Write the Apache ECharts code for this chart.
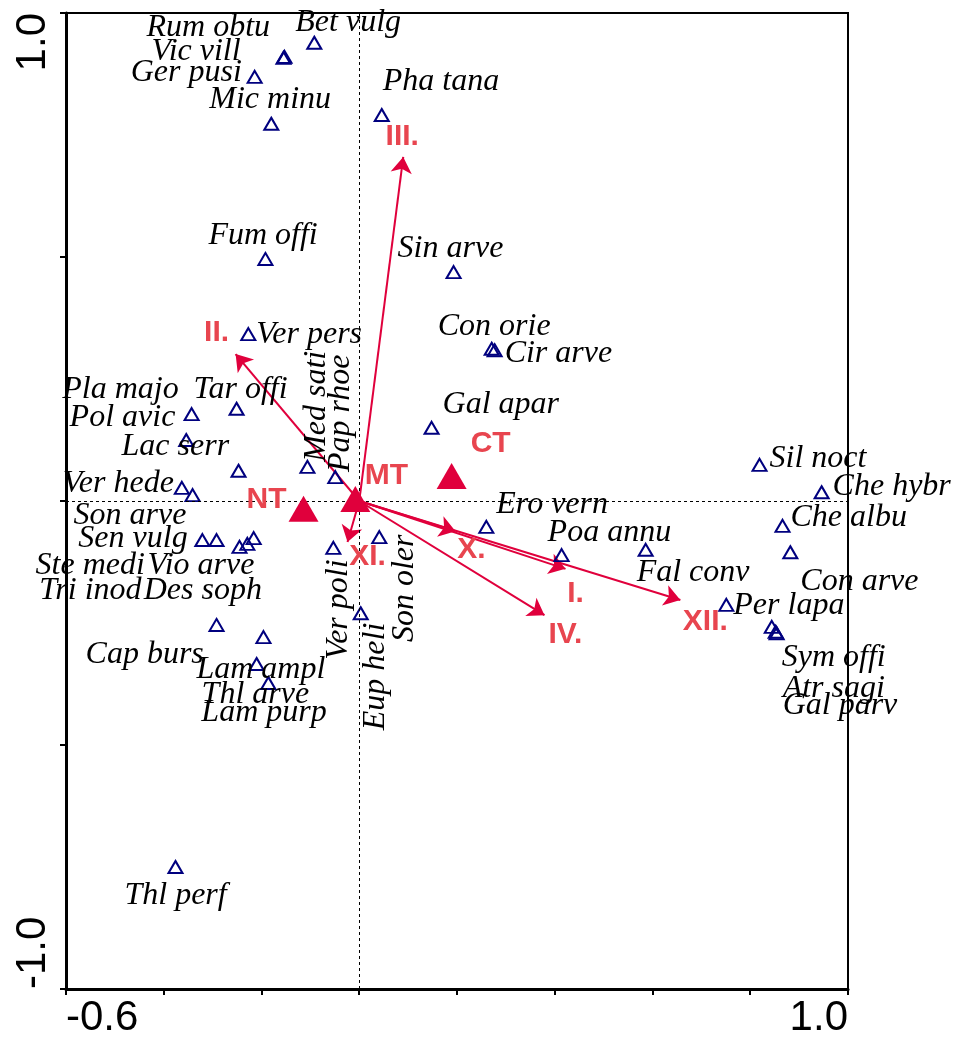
<!DOCTYPE html>
<html>
<head>
<meta charset="utf-8">
<title>Ordination biplot</title>
<script src="https://cdn.jsdelivr.net/npm/echarts@6/dist/echarts.min.js"></script>
<style>
  html, body { margin: 0; padding: 0; background: #fff; }
  #chart { width: 954px; height: 1044px; }
</style>
</head>
<body>
<div id="chart"></div>
<script>
// species scores
const speciesNames = [
  'Rum obtu', 'Bet vulg', 'Vic vill', 'Ger pusi', 'Mic minu', 'Pha tana', 'Fum offi', 'Sin arve',
  'Con orie', 'Cir arve', 'Ver pers', 'Pla majo', 'Tar offi', 'Pol avic', 'Lac serr', 'Gal apar',
  'Med sati', 'Pap rhoe', 'Ver hede', 'Son arve', 'Sen vulg', 'Ste medi', 'Vio arve', 'Tri inod',
  'Des soph', 'Ver poli', 'Son oler', 'Eup heli', 'Cap burs', 'Lam ampl', 'Thl arve', 'Lam purp',
  'Thl perf', 'Ero vern', 'Poa annu', 'Fal conv', 'Per lapa', 'Sil noct', 'Che hybr', 'Che albu',
  'Con arve', 'Sym offi', 'Atr sagi', 'Gal parv'
]
const speciesX = [
  -0.153, -0.092, -0.155, -0.214, -0.180, 0.046, -0.192, 0.193,
  0.271, 0.277, -0.227, -0.354, -0.251, -0.343, -0.247, 0.148,
  -0.106, -0.049, -0.363, -0.341, -0.321, -0.292, -0.245, -0.229,
  -0.216, -0.053, 0.041, 0.003, -0.292, -0.196, -0.210, -0.186,
  -0.376, 0.260, 0.414, 0.586, 0.751, 0.819, 0.946, 0.866,
  0.882, 0.844, 0.854, 0.852
]
const speciesY = [
  0.910, 0.939, 0.908, 0.869, 0.773, 0.791, 0.496, 0.469,
  0.312, 0.309, 0.342, 0.125, 0.189, 0.178, 0.062, 0.150,
  0.070, 0.049, 0.027, 0.012, -0.080, -0.080, -0.094, -0.088,
  -0.076, -0.096, -0.074, -0.230, -0.254, -0.279, -0.334, -0.373,
  -0.750, -0.053, -0.111, -0.100, -0.213, 0.074, 0.018, -0.051,
  -0.105, -0.258, -0.271, -0.268
]

// environmental variables (arrow tips)
const envNames = ['I.', 'II.', 'III.', 'IV.', 'X.', 'XI.', 'XII.']
const envX = [0.422, -0.253, 0.090, 0.379, 0.197, -0.024, 0.657]
const envY = [-0.139, 0.301, 0.705, -0.234, -0.062, -0.084, -0.203]

// tillage centroids
const centroidNames = ['MT', 'NT', 'CT']
const centroidX = [-0.008, -0.114, 0.189]
const centroidY = [0.004, -0.016, 0.051]

// tick labels that are printed
const xTickLabels = [-0.6, 1.0]
const yTickLabels = [-1.0, 1.0]

// label placement, pixels from the marker centre (left edge / middle of text)
const speciesLabelShift = [
  [-138, -29], [-19, -20], [-132, -6], [-124, -4], [-62, -24], [1, -33], [-57, -23], [-56, -24],
  [-54, -22], [10, 3], [8, 0], [-124, -50], [-43, -19], [-122, 3], [-117, -24], [11, -23],
  [9, -5], [5, -5], [-119, -4], [-119, 20], [-124, -1], [-181, 26], [-92, 19], [-208, 47],
  [-110, 53], [5, 112], [25, 105], [15, 117], [-131, 30], [-67, 32], [-55, 31], [-67, 30],
  [-51, 29], [10, -22], [-14, -23], [-9, 23], [7, 1], [10, -6], [11, -6], [8, -8],
  [10, 29], [10, 31], [6, 55], [7, 74]
]
const verticalLabels = ['Med sati', 'Pap rhoe', 'Ver poli', 'Son oler', 'Eup heli']
const envLabelShift = [[10, 25], [-19, -21], [-1, -20], [21, 20], [16, 18], [20, 15], [25, 22]]
const centroidLabelShift = [[31, -23], [-37, -9], [39, -32]]

const RED = '#e0003c'
const RED_TEXT = '#e8454f'
const BLUE = '#00007f'

const near = (v, list) => list.some(t => Math.abs(v - t) < 1e-6)

// species: open triangles with italic names
const speciesData = speciesNames.map((name, i) => {
  const [sx, sy] = speciesLabelShift[i]
  const vertical = verticalLabels.includes(name)
  return {
    name,
    value: [speciesX[i], speciesY[i]],
    // a rotated label turns its offset with it
    label: vertical
      ? { rotate: 90, offset: [-sy, sx] }
      : { offset: [sx, sy] }
  }
})

const envArrows = envNames.map((name, i) => ({
  name,
  coords: [[0, 0], [envX[i], envY[i]]]
}))

const envTips = envNames.map((name, i) => ({
  name,
  value: [envX[i], envY[i]],
  label: { offset: envLabelShift[i] }
}))

const centroidData = centroidNames.map((name, i) => ({
  name,
  value: [centroidX[i], centroidY[i]],
  label: { offset: centroidLabelShift[i] }
}))

const axisCommon = {
  axisLine: { show: true, onZero: false, lineStyle: { color: '#000', width: 3 } },
  axisTick: { show: true, inside: false, length: 6, lineStyle: { color: '#000', width: 2 } },
  splitLine: { show: false }
}

const option = {
  animation: false,
  backgroundColor: '#fff',
  grid: {
    left: 66,
    right: 106,
    top: 13,
    bottom: 55,
    show: true,
    borderColor: '#000',
    borderWidth: 2,
    outerBoundsMode: 'none'
  },
  xAxis: {
    type: 'value',
    min: -0.6,
    max: 1.0,
    interval: 0.2,
    ...axisCommon,
    axisLabel: {
      interval: 0,
      margin: 8,
      fontSize: 42,
      fontFamily: 'Liberation Sans',
      color: '#000',
      alignMinLabel: 'left',
      alignMaxLabel: 'right',
      formatter: v => (near(v, xTickLabels) ? v.toFixed(1) : '')
    }
  },
  yAxis: {
    type: 'value',
    min: -1.0,
    max: 1.0,
    interval: 0.5,
    ...axisCommon,
    axisLabel: {
      interval: 0,
      rotate: 90,
      margin: 12,
      fontSize: 42,
      fontFamily: 'Liberation Sans',
      color: '#000',
      alignMinLabel: 'left',
      alignMaxLabel: 'right',
      formatter: v => (near(v, yTickLabels) ? v.toFixed(1) : '')
    }
  },
  series: [
    {
      // dashed zero lines
      type: 'scatter',
      data: [],
      z: 1,
      markLine: {
        silent: true,
        symbol: ['none', 'none'],
        label: { show: false },
        lineStyle: { color: '#000', width: 1, type: [3, 3] },
        data: [{ xAxis: 0 }, { yAxis: 0 }]
      }
    },
    {
      // environmental arrows
      type: 'lines',
      coordinateSystem: 'cartesian2d',
      z: 3,
      silent: true,
      symbol: ['none', 'arrow'],
      symbolSize: 16,
      lineStyle: { color: RED, width: 2, opacity: 1, curveness: 0 },
      data: envArrows
    },
    {
      type: 'scatter',
      z: 4,
      silent: true,
      symbol: 'triangle',
      symbolSize: [14, 12],
      itemStyle: { color: 'rgba(0,0,0,0)', borderColor: BLUE, borderWidth: 2, opacity: 1 },
      label: {
        show: true,
        position: 'inside',
        align: 'left',
        verticalAlign: 'middle',
        formatter: '{b}',
        fontFamily: 'Liberation Serif',
        fontStyle: 'italic',
        fontSize: 32,
        color: '#000'
      },
      data: speciesData
    },
    {
      // arrow tip labels
      type: 'scatter',
      z: 5,
      silent: true,
      symbolSize: 0,
      itemStyle: { color: 'rgba(0,0,0,0)', opacity: 1 },
      label: {
        show: true,
        position: 'inside',
        align: 'center',
        verticalAlign: 'middle',
        formatter: '{b}',
        fontFamily: 'Liberation Sans',
        fontWeight: 'bold',
        fontSize: 30,
        color: RED_TEXT
      },
      data: envTips
    },
    {
      // centroids
      type: 'scatter',
      z: 6,
      silent: true,
      symbol: 'triangle',
      symbolSize: [30, 26],
      itemStyle: { color: RED, opacity: 1 },
      label: {
        show: true,
        position: 'inside',
        align: 'center',
        verticalAlign: 'middle',
        formatter: '{b}',
        fontFamily: 'Liberation Sans',
        fontWeight: 'bold',
        fontSize: 30,
        color: RED_TEXT
      },
      data: centroidData
    }
  ]
}

const chart = echarts.init(document.getElementById('chart'))
chart.setOption(option)
window.addEventListener('resize', () => chart.resize())
</script>
</body>
</html>
